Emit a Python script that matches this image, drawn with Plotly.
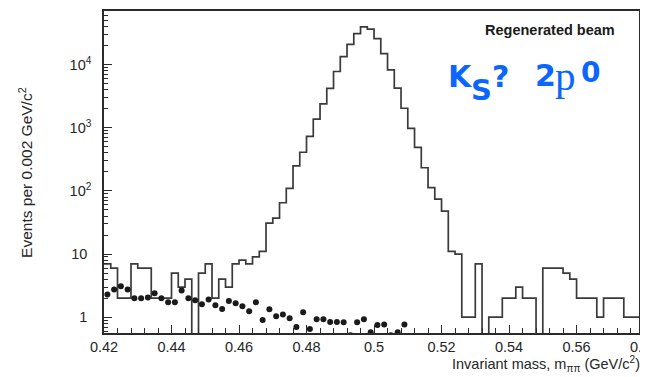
import plotly.graph_objects as go

# ---- data ----
bin_start = 0.420
bin_width = 0.002

regenerated_counts = [
    7, 6, 2, 2, 7, 6, 6, 2, 2, 2,
    5, 3, 4, 0, 5, 7, 2, 4, 3, 7,
    8, 7, 9, 11, 31, 37, 65, 110, 250, 410,
    730, 1370, 2400, 4200, 7800, 13400, 21000, 31000, 39800, 36500,
    25900, 15000, 8300, 4260, 2040, 980, 490, 233, 113, 74,
    48, 11, 10, 1, 1, 7, 0, 1, 1, 2,
    2, 3, 2, 2, 0, 6, 6, 6, 5, 4,
    2, 2, 2, 1, 2, 2, 2, 1, 1, 1,
]

background_points = [
    2.3, 2.75, 3.1, 2.75, 2.0, 2.0, 2.05, 2.4, 2.0, 1.72,
    1.72, 2.65, 2.0, 1.85, 1.6, 1.9, 1.55, 1.35, 1.8, 1.66,
    1.49, 1.24, 1.72, 0.9, 1.34, 1.04, 1.1, 0.96, 0.7, 1.2,
    0.65, 0.93, 0.93, 0.84, 0.84, 0.83, 0.52, 0.83, 0.93, 0.58,
    0.75, 0.77, 0.52, 0.58, 0.77,
]

x_range = [0.42, 0.5785]          # the scanned frame stops just short of 0.58
x_tick_vals = [0.42, 0.44, 0.46, 0.48, 0.50, 0.52, 0.54, 0.56]
x_tick_text = ["0.42", "0.44", "0.46", "0.48", "0.5", "0.52", "0.54", "0.56"]
x_edge_tick_val = 0.58
x_edge_tick_text = "0.58"
y_tick_vals = [1, 10, 100, 1000, 10000]
y_tick_text = ["1\u00a0", "10\u00a0", "10<sup>2</sup>", "10<sup>3</sup>", "10<sup>4</sup>"]

# ---- build traces ----
edges = [bin_start + i * bin_width for i in range(len(regenerated_counts) + 1)]
hist_y = [c if c > 0 else 0.01 for c in regenerated_counts]
hist_y = hist_y + [hist_y[-1]]
centers = [bin_start + (i + 0.5) * bin_width for i in range(len(background_points))]

FONT = "Liberation Sans, Arial, sans-serif"
INK = "#262626"
AX = "#2a2a2a"

fig = go.Figure()
fig.add_trace(go.Scatter(
    x=edges, y=hist_y, mode="lines", line=dict(shape="hv", color="#3a3a3a", width=1.7),
    showlegend=False, hoverinfo="skip"))
fig.add_trace(go.Scatter(
    x=centers, y=background_points, mode="markers",
    marker=dict(color="#1a1a1a", size=6), showlegend=False, hoverinfo="skip"))

minor_y = [m * 10 ** e for e in range(-1, 5) for m in range(2, 10)]

# page has an 8px body margin: figure is placed at (8, 8) in the window
fig.update_layout(
    width=648, height=377,
    margin=dict(l=96, r=17, t=1, b=52),
    paper_bgcolor="white", plot_bgcolor="white",
    font=dict(family=FONT, color=INK),
    xaxis=dict(
        range=x_range, showgrid=False, zeroline=False,
        showline=True, linecolor=AX, linewidth=1.5, mirror=True,
        ticks="inside", ticklen=8, tickwidth=1.2, tickcolor=AX,
        tickvals=x_tick_vals, ticktext=x_tick_text,
        tickfont=dict(size=14.5, color=INK, family=FONT),
        ticklabelstandoff=0,
        minor=dict(dtick=0.004, tick0=0.42, ticks="inside", ticklen=5,
                   tickwidth=1, tickcolor=AX),
    ),
    yaxis=dict(
        type="log", range=[-0.25, 4.85], showgrid=False, zeroline=False,
        showline=True, linecolor=AX, linewidth=1.5, mirror=True,
        ticks="inside", ticklen=8, tickwidth=1.2, tickcolor=AX,
        tickvals=y_tick_vals, ticktext=y_tick_text,
        tickfont=dict(size=14.5, color=INK, family=FONT),
        ticklabelstandoff=8,
        minor=dict(tickmode="array", tickvals=minor_y, ticks="inside", ticklen=4,
                   tickwidth=1, tickcolor=AX),
    ),
)

# the 0.58 label sits just past the frame edge (cut by the picture edge)
edge_frac = (x_edge_tick_val - x_range[0]) / (x_range[1] - x_range[0])
fig.add_annotation(
    text=x_edge_tick_text, xref="paper", yref="paper", x=edge_frac, y=-0.0432,
    xanchor="center", yanchor="middle", showarrow=False, borderpad=0,
    font=dict(size=14.5, color=INK, family=FONT))

fig.add_annotation(
    text="Events per 0.002 GeV/c<sup>2</sup>", textangle=-90,
    xref="paper", yref="paper", x=-0.146, y=0.50, xanchor="center", yanchor="middle",
    showarrow=False, font=dict(size=15.5, color=INK, family=FONT))
fig.add_annotation(
    text="Invariant mass, m<sub>ππ</sub> (GeV/c<sup>2</sup>)",
    xref="paper", yref="paper", x=1.005, y=-0.095, xanchor="right", yanchor="middle",
    showarrow=False, font=dict(size=14.5, color=INK, family=FONT))
fig.add_annotation(
    text="<b>Regenerated beam</b>",
    xref="paper", yref="paper", x=0.834, y=0.941, xanchor="center", yanchor="middle",
    showarrow=False, font=dict(size=14.5, color="#1a1a1a", family=FONT))

# "K_S? 2p^0" overlay label (the scan's sub/superscripts are full size, shifted)
BLUE = "#0a66ff"
SANS = "DejaVu Sans, sans-serif"
blue_parts = [
    ("<b>K</b>", 0.641, 0.7975, SANS, 30),
    ("<b>S</b>", 0.684, 0.754, SANS, 29),
    ("<b>?</b>", 0.723, 0.7975, SANS, 30),
    ("<b>2</b>", 0.803, 0.8006, SANS, 30),
    ("p", 0.842, 0.7975, "Liberation Serif, serif", 41),
    ("<b>0</b>", 0.890, 0.8096, SANS, 28),
]
for txt, px, py, fam, sz in blue_parts:
    fig.add_annotation(text=txt, xref="paper", yref="paper", x=px, y=py,
                       xanchor="left", yanchor="middle", showarrow=False,
                       borderpad=0, font=dict(size=sz, color=BLUE, family=fam))

fig.write_html("out.html")
